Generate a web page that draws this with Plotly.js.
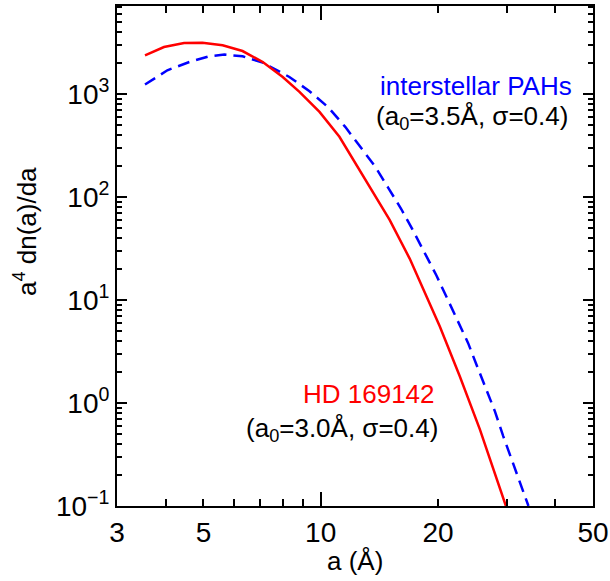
<!DOCTYPE html>
<html>
<head>
<meta charset="utf-8">
<script src="https://cdn.plot.ly/plotly-3.0.1.min.js"></script>
<style>html,body{margin:0;padding:0;background:#fff;}#chart{width:610px;height:581px;}</style>
</head>
<body>
<div id="chart"></div>
<script>
// HD 169142 (a0=3.0 Å, sigma=0.4)
const redA = [3.54, 3.96, 4.46, 4.97, 5.60, 6.30, 7.10, 7.99, 8.82, 9.93, 11.17, 12.58, 13.9, 15.03, 16.92, 19.05, 20.21, 22.75, 25.62, 29.88];
const redV = [2388, 2873, 3141, 3170, 2985, 2628, 2056, 1471, 1053, 674, 385.7, 183.5, 101, 60.1, 25.3, 9.37, 5.56, 1.82, 0.555, 0.1];
// interstellar PAHs (a0=3.5 Å, sigma=0.4)
const blueA = [3.54, 4.04, 4.60, 5.17, 5.66, 6.30, 7.10, 8.31, 9.36, 10.47, 11.56, 12.64, 13.81, 14.88, 16.11, 17.26, 18.49, 19.82, 21.10, 22.52, 23.89, 25.20, 26.65, 27.99, 29.41, 30.90, 32.45, 34.14];
const blueV = [1242, 1708, 2056, 2334, 2425, 2334, 2029, 1471, 1069, 743, 482, 308.6, 197.5, 124.7, 76.3, 47.4, 28.6, 17.35, 10.48, 6.22, 3.84, 2.28, 1.35, 0.835, 0.478, 0.284, 0.169, 0.1];

const xTickVals = [3, 4, 5, 6, 7, 8, 9, 10, 20, 30, 40, 50];
const xTickText = ['3', '', '5', '', '', '', '', '10', '20', '', '', '50'];
const xMajor = [10];
const yTickVals = [0.1, 1, 10, 100, 1000];
const yTickText = ['10<sup>\u22121</sup>', '10<sup>0</sup>', '10<sup>1</sup>', '10<sup>2</sup>', '10<sup>3</sup>'];

const yMinor = [];
for (const d of yTickVals) {
  for (let k = 2; k <= 9; k++) { const v = d * k; if (v < 7200) yMinor.push(+v.toPrecision(3)); }
}

const FONT = '"Liberation Sans", Arial, Helvetica, sans-serif';
const XR = [Math.log10(3), Math.log10(50)];
const YR = [-1, 3.857];

function ghost(xa, ya) {
  return {x: redA, y: redV, xaxis: xa, yaxis: ya, type: 'scatter', mode: 'lines',
    opacity: 0, line: {width: 1, color: 'white'}, hoverinfo: 'skip', showlegend: false};
}

const traces = [
  {x: blueA, y: blueV, type: 'scatter', mode: 'lines',
   line: {color: 'rgb(0,0,255)', width: 2.5, dash: '12px,7px'}, hoverinfo: 'skip'},
  {x: redA, y: redV, type: 'scatter', mode: 'lines',
   line: {color: 'rgb(255,0,0)', width: 2.5}, hoverinfo: 'skip'},
  ghost('x2', 'y2'), ghost('x3', 'y3'), ghost('x4', 'y4')
];

const base = {showgrid: false, zeroline: false, linecolor: 'black', linewidth: 2,
  ticks: 'inside', tickcolor: 'black', tickwidth: 2, tickmode: 'array'};

function ax(extra) { return Object.assign({}, base, extra); }

const layout = {
  width: 610, height: 581,
  margin: {l: 117, r: 17, t: 6, b: 75},
  paper_bgcolor: 'white', plot_bgcolor: 'white',
  showlegend: false,
  font: {family: FONT, size: 28, color: 'black'},
  // bottom: all ticks short, labelled
  xaxis: ax({type: 'log', range: XR, showline: true, tickvals: xTickVals, ticktext: xTickText, tickangle: 0, ticklen: 7}),
  // top: all ticks short
  xaxis2: ax({type: 'log', range: XR, overlaying: 'x', side: 'top', anchor: 'y2', showline: true,
    tickvals: xTickVals, ticklen: 7, showticklabels: false}),
  // bottom / top: long decade tick
  xaxis3: ax({type: 'log', range: XR, overlaying: 'x', side: 'bottom', anchor: 'y3', showline: false,
    tickvals: xMajor, ticklen: 14, showticklabels: false}),
  xaxis4: ax({type: 'log', range: XR, overlaying: 'x', side: 'top', anchor: 'y4', showline: false,
    tickvals: xMajor, ticklen: 14, showticklabels: false}),
  // left: decades, labelled
  yaxis: ax({type: 'log', range: YR, showline: true, tickvals: yTickVals, ticktext: yTickText, ticklen: 10}),
  // right: decades
  yaxis2: ax({type: 'log', range: YR, overlaying: 'y', side: 'right', anchor: 'x2', showline: true,
    tickvals: yTickVals, ticklen: 10, showticklabels: false}),
  // left / right: minor ticks
  yaxis3: ax({type: 'log', range: YR, overlaying: 'y', side: 'left', anchor: 'x3', showline: false,
    tickvals: yMinor, ticklen: 5, showticklabels: false}),
  yaxis4: ax({type: 'log', range: YR, overlaying: 'y', side: 'right', anchor: 'x4', showline: false,
    tickvals: yMinor, ticklen: 5, showticklabels: false}),
  annotations: [
    {xref: 'paper', yref: 'paper', x: -0.191, y: 0.548, text: 'a<sup>4</sup> dn(a)/da', textangle: -90,
     showarrow: false, xanchor: 'center', yanchor: 'middle', font: {family: FONT, size: 26, color: 'black'}},
    {xref: 'paper', yref: 'paper', x: 0.5, y: -0.11, text: 'a (\u00c5)',
     showarrow: false, xanchor: 'center', yanchor: 'middle', font: {family: FONT, size: 26, color: 'black'}},
    {xref: 'paper', yref: 'paper', x: 0.9607, y: 0.84, text: 'interstellar PAHs',
     showarrow: false, xanchor: 'right', yanchor: 'middle', font: {family: FONT, size: 26, color: 'rgb(0,0,255)'}},
    {xref: 'paper', yref: 'paper', x: 0.9523, y: 0.777, text: '(a<sub>0</sub>=3.5\u00c5, \u03c3=0.4)',
     showarrow: false, xanchor: 'right', yanchor: 'middle', font: {family: FONT, size: 26, color: 'black'}},
    {xref: 'paper', yref: 'paper', x: 0.6726, y: 0.224, text: 'HD 169142',
     showarrow: false, xanchor: 'right', yanchor: 'middle', font: {family: FONT, size: 26, color: 'rgb(255,0,0)'}},
    {xref: 'paper', yref: 'paper', x: 0.679, y: 0.154, text: '(a<sub>0</sub>=3.0\u00c5, \u03c3=0.4)',
     showarrow: false, xanchor: 'right', yanchor: 'middle', font: {family: FONT, size: 26, color: 'black'}}
  ]
};

Plotly.newPlot('chart', traces, layout, {displayModeBar: false});
</script>
</body>
</html>
